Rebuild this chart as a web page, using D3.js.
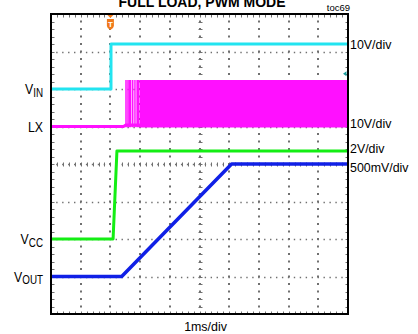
<!DOCTYPE html>
<html><head><meta charset="utf-8">
<script src="https://cdn.jsdelivr.net/npm/d3@7"></script>
<style>body{margin:0;background:#fff}svg{display:block}</style>
</head><body>
<svg id="c" width="418" height="334"></svg>
<script>
// ---- data ----
const channels = ["VIN", "LX", "VCC", "VOUT"];
const scaleLabels = ["10V/div", "10V/div", "2V/div", "500mV/div"];
const voltsPerDiv = [10, 10, 2, 0.5];
const groundDiv = [6, 5, 2, 1];          // ground marker position (divisions from bottom)
const timeLabel = "1ms/div";
const title = "FULL LOAD, PWM MODE";
const tocLabel = "toc69";
// time in ms (trigger at 0)
const vinT = [-2, 0.02, 0.02, 8];
const vinV = [0, 0, 12, 12];
const vccT = [-2, 0.09, 0.22, 8];
const vccV = [0, 0, 4.7, 4.7];
const voutT = [-2, 0.38, 4.08, 8];
const voutV = [0, 0, 1.5, 1.5];
const lxT = [-2, 0.44, 0.52, 8];
const lxV = [0, 0, 0.4, 0.3];
const lxPulseT = [0.52, 0.56, 0.6, 0.64, 0.68, 0.74, 0.8, 0.86, 0.91, 0.95];
const lxPulseHigh = 12.4;
const lxSwitchStart = 0.98;
const trigLevelVin = 4.1;

// ---- layout ----
const svg = d3.select("#c");
const L = 51, R = 348, T = 14, B = 314;
const x = d3.scaleLinear().domain([-2, 8]).range([L, R]);
const y = d3.scaleLinear().domain([0, 8]).range([B, T]);
const colors = ["#22e4f0", "#ff10ff", "#14ee14", "#1020e6"];
const font = "'Liberation Sans', Arial, sans-serif";

// dotted grid
const hDiv = (R - L) / 10, vDiv = (B - T) / 8;
const gridCol = "#707070";
const grid = svg.append("g").attr("stroke", gridCol).attr("fill", "none");
grid.selectAll("line.v").data(d3.range(1, 10)).join("line").attr("class", "v")
  .attr("x1", i => Math.round(L + i * hDiv)).attr("x2", i => Math.round(L + i * hDiv))
  .attr("y1", T - 1).attr("y2", B).attr("stroke-width", 2)
  .attr("stroke-dasharray", `2 ${vDiv / 5 - 2}`);
grid.selectAll("line.h").data(d3.range(1, 8)).join("line").attr("class", "h")
  .attr("y1", i => Math.round(T + i * vDiv) + 0.5).attr("y2", i => Math.round(T + i * vDiv) + 0.5)
  .attr("x1", L - 0.75).attr("x2", R).attr("stroke-width", 1.3)
  .attr("stroke-dasharray", `1.4 ${hDiv / 5 - 1.4}`);
// center minor ticks and border ticks
const cx = L + 5 * hDiv, cy = T + 4 * vDiv;
const ticks = [];
for (let k = 0; k <= 50; k++) ticks.push([L + k * hDiv / 5, cy - 2, L + k * hDiv / 5, cy + 2]);
for (let k = 0; k <= 40; k++) ticks.push([cx - 2, T + k * vDiv / 5, cx + 2, T + k * vDiv / 5]);
for (let k = 0; k <= 50; k++) { ticks.push([L + k * hDiv / 5, T, L + k * hDiv / 5, T + 3]); ticks.push([L + k * hDiv / 5, B, L + k * hDiv / 5, B - 3]); }
for (let k = 0; k <= 40; k++) { ticks.push([L, T + k * vDiv / 5, L + 3, T + k * vDiv / 5]); ticks.push([R, T + k * vDiv / 5, R - 3, T + k * vDiv / 5]); }
svg.append("g").attr("stroke", gridCol).attr("stroke-width", 1)
  .selectAll("line").data(ticks).join("line")
  .attr("x1", d => Math.round(d[0]) + 0.5).attr("y1", d => Math.round(d[1]) + 0.5)
  .attr("x2", d => Math.round(d[2]) + 0.5).attr("y2", d => Math.round(d[3]) + 0.5);

// traces
const pos = (ch, v) => y(groundDiv[ch] + v / voltsPerDiv[ch]);
const line = ch => d3.line().x(d => x(d[0])).y(d => pos(ch, d[1]));
const traces = svg.append("g").attr("fill", "none");
// LX
const lxc = 1;
traces.append("path").datum(d3.zip(lxT, lxV)).attr("d", line(lxc))
  .attr("stroke", colors[lxc]).attr("stroke-width", 3);
traces.selectAll("line.p").data(lxPulseT).join("line").attr("class", "p")
  .attr("x1", d => x(d)).attr("x2", d => x(d))
  .attr("y1", pos(lxc, -0.2)).attr("y2", pos(lxc, lxPulseHigh))
  .attr("stroke", colors[lxc]).attr("stroke-width", 1.2);
traces.append("path")
  .datum([[lxSwitchStart, lxPulseHigh], [8, lxPulseHigh]])
  .attr("d", d3.area().x(d => x(d[0])).y0(pos(lxc, -0.25)).y1(d => pos(lxc, d[1])))
  .attr("fill", colors[lxc]);
// VIN, VCC, VOUT
[[0, vinT, vinV], [2, vccT, vccV], [3, voutT, voutV]].forEach(([ch, t, v]) => {
  traces.append("path").datum(d3.zip(t, v)).attr("d", line(ch))
    .attr("stroke", colors[ch]).attr("stroke-width", ch === 3 ? 3.5 : 3)
    .attr("stroke-linejoin", "round");
});

// frame
svg.append("rect").attr("x", L).attr("y", T).attr("width", R - L).attr("height", B - T)
  .attr("fill", "none").attr("stroke", "#000").attr("stroke-width", 2);

// trigger marker
const tx = x(0);
svg.append("path").attr("d", `M${tx - 3},${T + 1}L${tx + 3},${T + 1}L${tx},${T + 4}Z`).attr("fill", "#f07a1a");
svg.append("path")
  .attr("d", `M${tx - 3.5},${T + 5}L${tx + 3.5},${T + 5}L${tx + 3.5},${T + 12}Q${tx + 3.5},${T + 14} ${tx},${T + 16}Q${tx - 3.5},${T + 14} ${tx - 3.5},${T + 12}Z`)
  .attr("fill", "#f07a1a");
svg.append("text").attr("x", tx).attr("y", T + 13).attr("text-anchor", "middle")
  .attr("font-family", font).attr("font-size", 8).attr("font-weight", "bold").attr("fill", "#fff").text("T");
// trigger level marker
const ty = pos(0, trigLevelVin);
svg.append("path").attr("d", `M${R - 5},${ty}L${R - 1.5},${ty - 2.5}L${R - 1.5},${ty + 2.5}Z`).attr("fill", "#1a9c9c");

// left labels (narrow)
const leftLab = [
  { main: "V", sub: "IN", ch: 0 }, { main: "LX", sub: "", ch: 1 },
  { main: "V", sub: "CC", ch: 2 }, { main: "V", sub: "OUT", ch: 3 }];
leftLab.forEach(d => {
  const yy = y(groundDiv[d.ch]) + 5.3;
  const t = svg.append("text").attr("font-family", font).attr("fill", "#000")
    .attr("text-anchor", "end")
    .attr("transform", `translate(43,${yy}) scale(0.82,1)`);
  t.append("tspan").attr("font-size", 15).text(d.main);
  if (d.sub) t.append("tspan").attr("font-size", 12).attr("dy", 2.5).text(d.sub);
});

// right labels
const rightY = [pos(0, 12), pos(1, 0), pos(2, 4.7), pos(3, 1.5)];
const rightOff = [4.5, 1.5, 2, 7.5];
svg.selectAll("text.r").data(scaleLabels).join("text").attr("class", "r")
  .attr("x", 350).attr("y", (d, i) => rightY[i] + rightOff[i])
  .attr("font-family", font).attr("font-size", 12.4).attr("fill", "#000").text(d => d);

// bottom label, title, toc
svg.append("text").attr("x", (L + R) / 2 + 6).attr("y", 330.5).attr("text-anchor", "middle")
  .attr("font-family", font).attr("font-size", 12.4).text(timeLabel);
svg.append("text").attr("x", 202).attr("y", 7).attr("text-anchor", "middle")
  .attr("font-family", font).attr("font-size", 14).attr("font-weight", "bold").text(title);
svg.append("text").attr("x", 350).attr("y", 11).attr("text-anchor", "end")
  .attr("font-family", font).attr("font-size", 9.5).text(tocLabel);
</script>
</body></html>
